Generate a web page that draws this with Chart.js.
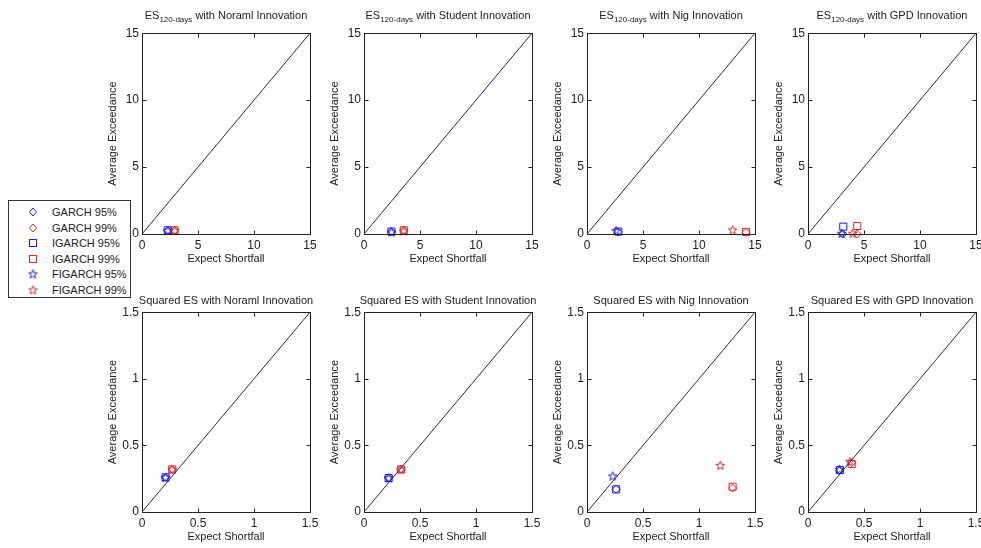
<!DOCTYPE html>
<html>
<head>
<meta charset="utf-8">
<script src="https://cdn.jsdelivr.net/npm/chart.js@4.4.0/dist/chart.umd.min.js"></script>
<style>
  body { margin: 0; background: #fff; width: 981px; height: 548px; overflow: hidden; position: relative;
         font-family: "Liberation Sans", Arial, sans-serif; color: #222; }
  .panel { position: absolute; }
  .title { position: absolute; width: 260px; text-align: center; font-size: 11px; white-space: nowrap; line-height: 14px; }
  .title sub { font-size: 8px; line-height: 0; }
  #legend { position: absolute; left: 8px; top: 200px; width: 121px; height: 96px; border: 1px solid #333; background: #fff; }
  .item { position: absolute; left: 0; height: 14px; font-size: 11px; line-height: 14px; }
  .item canvas { position: absolute; left: 18px; top: 1px; }
  .item span { position: absolute; left: 43px; white-space: nowrap; }
</style>
</head>
<body>
<div id="legend"></div>
<script>
document.addEventListener("DOMContentLoaded", () => {
  // panel names and axis ticks
  const innovations = ["Noraml", "Student", "Nig", "GPD"];
  const esTicks = [0, 5, 10, 15];
  const sqTicks = [0, 0.5, 1, 1.5];
  const seriesNames = ["GARCH 95%", "GARCH 99%", "IGARCH 95%", "IGARCH 99%", "FIGARCH 95%", "FIGARCH 99%"];

  // values per panel: first 4 = ES 120-days (Normal, Student, Nig, GPD), last 4 = Squared ES
  const garch95X   = [2.3, 2.45, 2.75, 3.1,  0.21, 0.22, 0.26, 0.28];
  const garch95Y   = [0.25, 0.15, 0.15, 0.0, 0.26, 0.255, 0.17, 0.31];
  const garch99X   = [2.9, 3.55, 14.2, 4.4,  0.27, 0.33, 1.30, 0.39];
  const garch99Y   = [0.25, 0.25, 0.12, 0.0, 0.32, 0.32, 0.18, 0.37];
  const igarch95X  = [2.3, 2.45, 2.8, 3.15,  0.21, 0.22, 0.26, 0.285];
  const igarch95Y  = [0.28, 0.18, 0.18, 0.55, 0.26, 0.255, 0.17, 0.315];
  const igarch99X  = [2.9, 3.55, 14.2, 4.4,  0.27, 0.33, 1.30, 0.39];
  const igarch99Y  = [0.28, 0.28, 0.15, 0.6, 0.32, 0.32, 0.19, 0.36];
  const figarch95X = [2.3, 2.45, 2.6, 3.0,   0.21, 0.22, 0.23, 0.28];
  const figarch95Y = [0.25, 0.15, 0.25, 0.05, 0.26, 0.255, 0.27, 0.32];
  const figarch99X = [2.95, 3.55, 13.0, 4.0, 0.27, 0.33, 1.19, 0.375];
  const figarch99Y = [0.25, 0.22, 0.3, 0.05, 0.32, 0.32, 0.35, 0.38];

  const blue = "#1c1cdc";
  const red = "#dc2626";
  const font = { family: '"Liberation Sans", Arial, sans-serif', size: 11 };
  const tickFont = { family: '"Liberation Sans", Arial, sans-serif', size: 12 };

  const colLeft = [142, 364, 587, 808];
  const rowTop = [33, 312];
  const plotW = 168;
  const plotH = [201, 200];

  function starImage(color) {
    const c = document.createElement("canvas");
    c.width = 11; c.height = 11;
    const g = c.getContext("2d");
    g.strokeStyle = color; g.lineWidth = 1;
    g.beginPath();
    for (let k = 0; k < 10; k++) {
      const r = k % 2 === 0 ? 4.6 : 1.9;
      const a = -Math.PI / 2 + k * Math.PI / 5;
      const px = 5.5 + r * Math.cos(a), py = 5.8 + r * Math.sin(a);
      if (k === 0) g.moveTo(px, py); else g.lineTo(px, py);
    }
    g.closePath(); g.stroke();
    return c;
  }
  const blueStar = starImage(blue);
  const redStar = starImage(red);

  const styles = [
    { style: "rectRot", color: blue, r: 4 },
    { style: "rectRot", color: red, r: 4 },
    { style: "rect", color: blue, r: 5 },
    { style: "rect", color: red, r: 5 },
    { style: blueStar, color: blue, r: 5 },
    { style: redStar, color: red, r: 5 }
  ];
  const xs = [garch95X, garch99X, igarch95X, igarch99X, figarch95X, figarch99X];
  const ys = [garch95Y, garch99Y, igarch95Y, igarch99Y, figarch95Y, figarch99Y];

  const boxTicks = {
    id: "boxTicks",
    afterDraw(chart) {
      const { ctx, chartArea: a, scales: { x, y } } = chart;
      ctx.save();
      ctx.strokeStyle = "#222";
      ctx.lineWidth = 1;
      const l = Math.round(a.left) + 0.5, r = Math.round(a.right) + 0.5;
      const t = Math.round(a.top) + 0.5, b = Math.round(a.bottom) + 0.5;
      ctx.strokeRect(l, t, r - l, b - t);
      ctx.beginPath();
      x.ticks.forEach(tk => {
        const px = Math.round(x.getPixelForValue(tk.value)) + 0.5;
        ctx.moveTo(px, b); ctx.lineTo(px, b - 4);
        ctx.moveTo(px, t); ctx.lineTo(px, t + 4);
      });
      y.ticks.forEach(tk => {
        const py = Math.round(y.getPixelForValue(tk.value)) + 0.5;
        ctx.moveTo(l, py); ctx.lineTo(l + 4, py);
        ctx.moveTo(r, py); ctx.lineTo(r - 4, py);
      });
      ctx.stroke();
      ctx.restore();
    }
  };

  function makePanel(i) {
    const row = Math.floor(i / 4), col = i % 4;
    const ticks = row === 0 ? esTicks : sqTicks;
    const max = ticks[ticks.length - 1];
    const L = 40, R = 14, T = 10, B = 36;

    const cv = document.createElement("canvas");
    cv.className = "panel";
    cv.width = plotW + L + R;
    cv.height = plotH[row] + T + B;
    cv.style.left = (colLeft[col] - L) + "px";
    cv.style.top = (rowTop[row] - T) + "px";
    document.body.appendChild(cv);

    const title = document.createElement("div");
    title.className = "title";
    title.style.left = (colLeft[col] + plotW / 2 - 130) + "px";
    title.style.top = (row === 0 ? 8 : 293) + "px";
    title.innerHTML = (row === 0 ? "ES<sub>120-days</sub>" : "Squared ES") + " with " + innovations[col] + " Innovation";
    document.body.appendChild(title);

    const datasets = [{
      data: [{ x: ticks[0], y: ticks[0] }, { x: max, y: max }],
      showLine: true,
      borderColor: "#24247e",
      borderWidth: 1,
      pointRadius: 0,
      clip: false
    }];
    styles.forEach((s, k) => {
      datasets.push({
        label: seriesNames[k],
        data: [{ x: xs[k][i], y: ys[k][i] }],
        pointStyle: s.style,
        pointRadius: s.r,
        borderColor: s.color,
        backgroundColor: "rgba(0,0,0,0)",
        borderWidth: 1,
        clip: false
      });
    });

    const tickText = v => String(v);

    new Chart(cv, {
      type: "scatter",
      data: { datasets },
      options: {
        responsive: false,
        animation: false,
        layout: { padding: { top: T, right: R, left: 0, bottom: 0 } },
        plugins: { legend: { display: false }, tooltip: { enabled: false } },
        scales: {
          x: {
            type: "linear", min: 0, max,
            afterBuildTicks: s => { s.ticks = ticks.map(v => ({ value: v })); },
            afterFit: s => { s.height = B; },
            grid: { display: false, drawTicks: false },
            border: { display: false },
            ticks: { font: tickFont, color: "#222", padding: 4, maxRotation: 0, autoSkip: false, callback: tickText },
            title: { display: true, text: "Expect Shortfall", font, color: "#222", padding: 4 }
          },
          y: {
            type: "linear", min: 0, max,
            afterBuildTicks: s => { s.ticks = ticks.map(v => ({ value: v })); },
            afterFit: s => { s.width = L; },
            grid: { display: false, drawTicks: false },
            border: { display: false },
            ticks: { font: tickFont, color: "#222", padding: 3, autoSkip: false, callback: tickText },
            title: { display: true, text: "Average Exceedance", font, color: "#222", padding: 4 }
          }
        }
      },
      plugins: [boxTicks]
    });
  }

  for (let i = 0; i < 8; i++) makePanel(i);

  // legend
  const legend = document.getElementById("legend");
  styles.forEach((s, k) => {
    const item = document.createElement("div");
    item.className = "item";
    item.style.top = (4 + k * 15.6) + "px";
    const c = document.createElement("canvas");
    c.width = 12; c.height = 12;
    const g = c.getContext("2d");
    g.strokeStyle = s.color; g.lineWidth = 1;
    if (s.style === "rectRot") {
      g.beginPath(); g.moveTo(6, 2); g.lineTo(9.5, 6); g.lineTo(6, 10); g.lineTo(2.5, 6); g.closePath(); g.stroke();
    } else if (s.style === "rect") {
      g.strokeRect(2.5, 2.5, 7, 7);
    } else {
      g.drawImage(s.style, 0.5, 0.5);
    }
    const label = document.createElement("span");
    label.textContent = seriesNames[k];
    item.appendChild(c); item.appendChild(label);
    legend.appendChild(item);
  });
});
</script>
</body>
</html>
